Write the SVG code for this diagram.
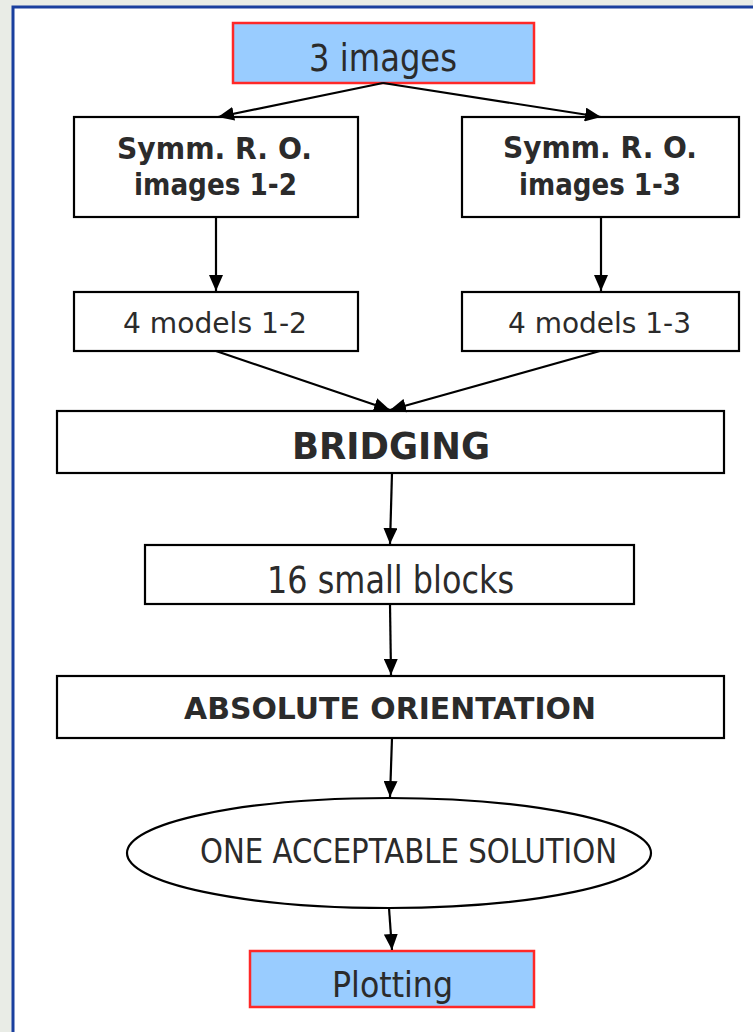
<svg xmlns="http://www.w3.org/2000/svg" width="753" height="1032" viewBox="0 0 753 1032">
<defs>
<marker id="ah" viewBox="0 0 16 14" refX="16" refY="7" markerWidth="16" markerHeight="14" markerUnits="userSpaceOnUse" orient="auto">
<path d="M0,0 L16,7 L0,14 z" fill="#000"/>
</marker>
<style>
.box{fill:#fff;stroke:#000;stroke-width:2.2}
.hl{fill:#99ccff;stroke:#ff2828;stroke-width:2.5}
.t{font-family:"DejaVu Sans","Liberation Sans",sans-serif;fill:#2b2b2b;text-anchor:middle}
.b{font-weight:bold}
.c{stroke:#000;stroke-width:2.2;fill:none;marker-end:url(#ah)}
</style>
</defs>
<rect width="753" height="1032" fill="#e9ece6"/>
<rect x="13" y="7" width="760" height="1040" fill="#fff" stroke="#1a3f9e" stroke-width="3"/>
<g id="n-images"><rect class="hl" x="233" y="23" width="301" height="60"/><text class="t" x="383" y="71" font-size="37" textLength="148" lengthAdjust="spacingAndGlyphs">3 images</text></g>
<g id="n-symm12"><rect class="box" x="74" y="117" width="284" height="100"/><text class="t b" x="214.5" y="159" font-size="30" textLength="195" lengthAdjust="spacingAndGlyphs">Symm. R. O.</text><text class="t b" x="215.5" y="195" font-size="30" textLength="163" lengthAdjust="spacingAndGlyphs">images 1-2</text></g>
<g id="n-symm13"><rect class="box" x="462" y="117" width="277" height="100"/><text class="t b" x="600" y="158" font-size="30" textLength="194" lengthAdjust="spacingAndGlyphs">Symm. R. O.</text><text class="t b" x="600" y="195" font-size="30" textLength="162" lengthAdjust="spacingAndGlyphs">images 1-3</text></g>
<g id="n-models12"><rect class="box" x="74" y="292" width="284" height="59"/><text class="t" x="215" y="333" font-size="29" textLength="184" lengthAdjust="spacingAndGlyphs">4 models 1-2</text></g>
<g id="n-models13"><rect class="box" x="462" y="292" width="277" height="59"/><text class="t" x="599.5" y="333" font-size="29" textLength="183" lengthAdjust="spacingAndGlyphs">4 models 1-3</text></g>
<g id="n-bridging"><rect class="box" x="57" y="411" width="667" height="62"/><text class="t b" x="391" y="459" font-size="37" textLength="198" lengthAdjust="spacingAndGlyphs">BRIDGING</text></g>
<g id="n-blocks"><rect class="box" x="145" y="545" width="489" height="59"/><text class="t" x="390.5" y="593" font-size="37" textLength="247" lengthAdjust="spacingAndGlyphs">16 small blocks</text></g>
<g id="n-abs"><rect class="box" x="57" y="676" width="667" height="62"/><text class="t b" x="390" y="719" font-size="31" textLength="412" lengthAdjust="spacingAndGlyphs">ABSOLUTE ORIENTATION</text></g>
<g id="n-solution"><ellipse cx="389" cy="853" rx="262" ry="55" fill="#fff" stroke="#000" stroke-width="2.2"/><text class="t" x="408.5" y="863" font-size="34" textLength="417" lengthAdjust="spacingAndGlyphs">ONE ACCEPTABLE SOLUTION</text></g>
<g id="n-plotting"><rect class="hl" x="250" y="951" width="284" height="56"/><text class="t" x="392.5" y="997" font-size="36" textLength="121" lengthAdjust="spacingAndGlyphs">Plotting</text></g>
<g id="connectors">
<line class="c" x1="383" y1="83" x2="218" y2="117"/>
<line class="c" x1="383" y1="83" x2="601" y2="117"/>
<line class="c" x1="216" y1="217" x2="216" y2="291"/>
<line class="c" x1="601" y1="217" x2="601" y2="291"/>
<line class="c" x1="216" y1="351" x2="390" y2="410"/>
<line class="c" x1="600" y1="351" x2="390" y2="410"/>
<line class="c" x1="392" y1="473" x2="390" y2="544"/>
<line class="c" x1="390" y1="604" x2="391" y2="675"/>
<line class="c" x1="392" y1="738" x2="390" y2="797"/>
<line class="c" x1="389" y1="908" x2="392" y2="950"/>
</g>
</svg>
